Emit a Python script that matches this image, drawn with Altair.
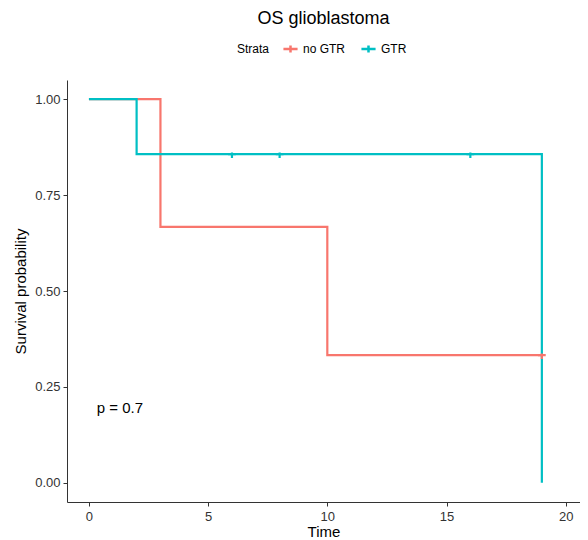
import altair as alt
import pandas as pd

# Kaplan-Meier steps
strata = ["no GTR", "GTR"]
red_time = [0, 3, 10, 19]
red_surv = [1.0, 0.667, 0.333, 0.333]
cyan_time = [0, 2, 19]
cyan_surv = [1.0, 0.857, 0.0]
# censor marks
red_cens_time = [19]
red_cens_surv = [0.333]
cyan_cens_time = [6, 8, 16]
cyan_cens_surv = [0.857, 0.857, 0.857]

colors = ["#F8766D", "#00BFC4"]

lines = pd.DataFrame({
    "Time": red_time + cyan_time,
    "Surv": red_surv + cyan_surv,
    "Strata": ["no GTR"] * len(red_time) + ["GTR"] * len(cyan_time),
})
cens = pd.DataFrame({
    "Time": red_cens_time + cyan_cens_time,
    "Surv": red_cens_surv + cyan_cens_surv,
    "Strata": ["no GTR"] * len(red_cens_time) + ["GTR"] * len(cyan_cens_time),
})
ptext = pd.DataFrame({"Time": [0.33], "Surv": [0.195], "label": ["p = 0.7"]})

xscale = alt.Scale(domain=[-0.92, 20.6], nice=False, zero=False)
yscale = alt.Scale(domain=[-0.05, 1.05], nice=False, zero=False)
cscale = alt.Scale(domain=strata, range=colors)

font = "Liberation Sans"

xaxis = alt.Axis(values=[0, 5, 10, 15, 20], title="Time", grid=False,
                 labelFontSize=13, titleFontSize=15, labelColor="#333333",
                 titleColor="#000000", domainColor="#333333", tickColor="#333333",
                 tickSize=4, labelPadding=4, titlePadding=1, labelFont=font, titleFont=font,
                 titleFontWeight="normal")
yaxis = alt.Axis(values=[0, 0.25, 0.5, 0.75, 1.0], format=".2f", title="Survival probability",
                 grid=False, labelFontSize=13, titleFontSize=15, labelColor="#333333",
                 titleColor="#000000", domainColor="#333333", tickColor="#333333",
                 tickSize=4, labelPadding=3, titlePadding=6, labelFont=font, titleFont=font,
                 titleFontWeight="normal")

plus_path = "M-1,0L1,0M0,-0.5L0,0.5"

line = alt.Chart(lines).mark_line(interpolate="step-after", strokeWidth=2.2).encode(
    x=alt.X("Time:Q", scale=xscale, axis=xaxis),
    y=alt.Y("Surv:Q", scale=yscale, axis=yaxis),
    color=alt.Color("Strata:N", scale=cscale, sort=strata,
                    legend=alt.Legend(orient="none", legendX=170, legendY=-40,
                                      direction="horizontal", title="Strata",
                                      titleOrient="left", titleFontSize=12,
                                      titleFontWeight="normal", titleFont=font,
                                      labelFont=font, labelFontSize=12,
                                      labelColor="#000000", titleColor="#000000",
                                      symbolType=plus_path, symbolStrokeWidth=2.5,
                                      symbolSize=200, symbolFillColor="transparent",
                                      columnPadding=10, titlePadding=12)),
    order=alt.Order("Time:Q"),
)

points = alt.Chart(cens).mark_point(shape="M-1,0L1,0M0,-0.4L0,1", size=60,
                                    strokeWidth=2.2, filled=False, opacity=1).encode(
    x=alt.X("Time:Q", scale=xscale),
    y=alt.Y("Surv:Q", scale=yscale),
    color=alt.Color("Strata:N", scale=cscale, legend=None),
)

txt = alt.Chart(ptext).mark_text(align="left", baseline="middle", fontSize=15,
                                 font=font, color="#000000").encode(
    x=alt.X("Time:Q", scale=xscale),
    y=alt.Y("Surv:Q", scale=yscale),
    text="label:N",
)

chart = alt.layer(line, points, txt).properties(
    width=513, height=422,
    title=alt.TitleParams("OS glioblastoma", fontSize=18, font=font, fontWeight="normal",
                          color="#000000", anchor="middle", offset=12),
    autosize=alt.AutoSizeParams(type="none"),
    padding={"left": 59, "top": 72, "right": 0, "bottom": 38},
).configure(background="white").configure_view(stroke=None)

chart.save("out.html", embed_options={"renderer": "svg", "actions": False})
